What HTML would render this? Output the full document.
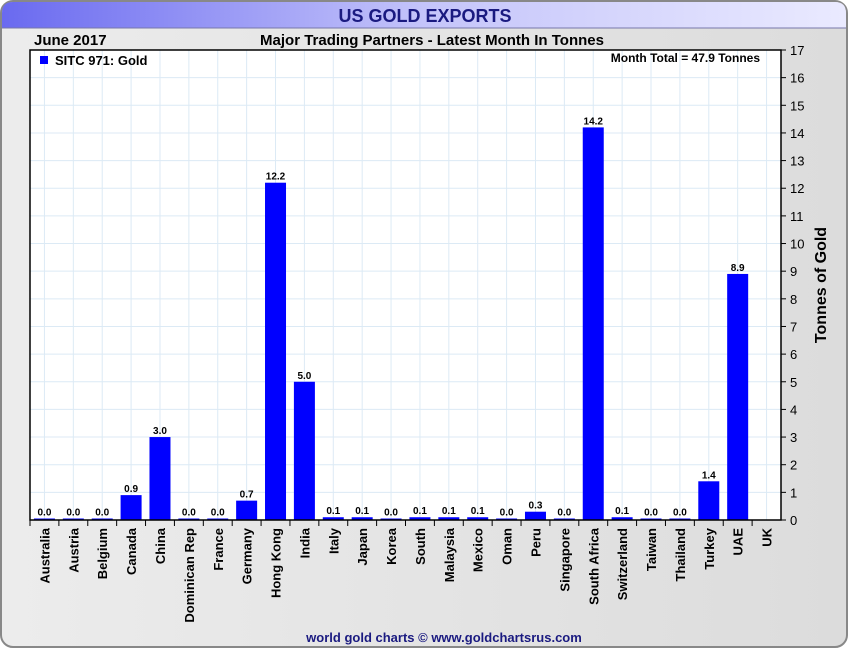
<!DOCTYPE html>
<html><head><meta charset="utf-8"><style>
body{margin:0;width:850px;height:650px;overflow:hidden;background:#fff;font-family:"Liberation Sans",sans-serif}
</style></head><body>
<svg width="850" height="650" xmlns="http://www.w3.org/2000/svg" font-family="Liberation Sans, sans-serif">
<defs>
<linearGradient id="tb" x1="0" x2="1"><stop offset="0" stop-color="#6a6af0"/><stop offset="0.5" stop-color="#c4c4fa"/><stop offset="1" stop-color="#eaeaff"/></linearGradient>
<linearGradient id="bg" x1="0" x2="1"><stop offset="0" stop-color="#ececec"/><stop offset="1" stop-color="#dcdcdc"/></linearGradient>
</defs>
<rect x="1" y="1" width="846" height="646" rx="12" fill="url(#bg)" stroke="#888" stroke-width="2"/>
<path d="M2,28 L2,13 Q2,2 13,2 L835,2 Q846,2 846,13 L846,28 Z" fill="url(#tb)"/>
<line x1="2" y1="28" x2="846" y2="28" stroke="#7777aa"/>
<text x="425" y="22" text-anchor="middle" font-size="18" font-weight="bold" fill="#1a1a80">US GOLD EXPORTS</text>
<text x="34" y="45" font-size="15" font-weight="bold">June 2017</text>
<text x="432" y="45" text-anchor="middle" font-size="15" font-weight="bold">Major Trading Partners - Latest Month In Tonnes</text>
<rect x="30" y="50" width="751" height="470" fill="#fff"/>
<g id="grid"></g><g id="bars"></g>
<rect x="30" y="50" width="751" height="470" fill="none" stroke="#000" stroke-width="1.5"/>
<g id="axis"></g>
<rect x="40" y="56" width="8" height="8" fill="#0000ff"/>
<text x="55" y="65" font-size="13" font-weight="bold">SITC 971: Gold</text>
<text x="760" y="62" text-anchor="end" font-size="12" font-weight="bold">Month Total = 47.9 Tonnes</text>
<text transform="translate(826,285) rotate(-90)" text-anchor="middle" font-size="16" font-weight="bold">Tonnes of Gold</text>
<text x="444" y="642" text-anchor="middle" font-size="13" font-weight="bold" fill="#1a1a80">world gold charts © www.goldchartsrus.com</text>
</svg>
<script>
const categories=["Australia","Austria","Belgium","Canada","China","Dominican Rep","France","Germany","Hong Kong","India","Italy","Japan","Korea","South","Malaysia","Mexico","Oman","Peru","Singapore","South Africa","Switzerland","Taiwan","Thailand","Turkey","UAE","UK"];
const values=[0,0,0,0.9,3.0,0,0,0.7,12.2,5.0,0.1,0.1,0,0.1,0.1,0.1,0,0.3,0,14.2,0.1,0,0,1.4,8.9,null];
const yTicks=[0,1,2,3,4,5,6,7,8,9,10,11,12,13,14,15,16,17];
const NS="http://www.w3.org/2000/svg";
const L=30,R=781,T=50,B=520,YMAX=17;
const bw=(R-L)/categories.length;
const x=i=>L+bw*(i+0.5);
const y=v=>B-(v/YMAX)*(B-T);
function mk(p,tag,a){const e=document.createElementNS(NS,tag);for(const k in a)e.setAttribute(k,a[k]);p.appendChild(e);return e;}
const g=document.getElementById('grid'),b=document.getElementById('bars'),ax=document.getElementById('axis');
yTicks.forEach(t=>{
 const gl=mk(g,'line',{x1:L,x2:R,y1:y(t),y2:y(t),stroke:'#dceaf5'});
 
 
 mk(ax,'line',{x1:R,x2:R+5,y1:y(t),y2:y(t),stroke:'#000'});
 const tx=mk(ax,'text',{x:R+9,y:y(t)+5,'font-size':13});
 tx.textContent=t;
 
 
});
categories.forEach((c,i)=>{
 const gl=mk(g,'line',{x1:x(i),x2:x(i),y1:T,y2:B,stroke:'#dceaf5'});
 
 
 mk(ax,'line',{x1:L+bw*i,x2:L+bw*i,y1:B,y2:B+6,stroke:'#000'});
 const tx=mk(ax,'text',{transform:`translate(${x(i)+5},${B+8}) rotate(-90)`,'text-anchor':'end','font-size':13,'font-weight':'bold'});
 tx.textContent=c;
 
 
 const v=values[i];
 if(v===null)return;
 const h=Math.max(B-y(v),1.5);
 const r=mk(b,'rect',{x:x(i)-10.5,y:B-h,width:21,height:h,fill:'#0000ff'});
 
 
 const lb=mk(b,'text',{x:x(i),y:B-h-3,'text-anchor':'middle','font-size':10,'font-weight':'bold'});
 lb.textContent=v.toFixed(1);
 
 
});
</script>
</body></html>
